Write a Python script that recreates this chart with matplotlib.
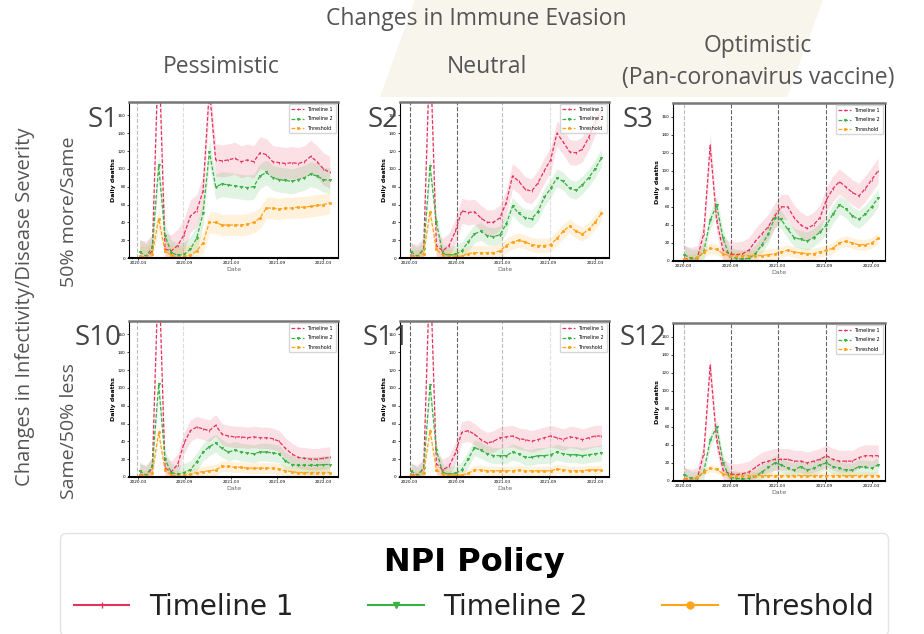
import matplotlib.pyplot as plt
from matplotlib.patches import Polygon
from matplotlib.lines import Line2D

# time index (two-week steps) shared by every panel
weeks = list(range(31))

# S1: pessimistic / 50% more
s1_t1 = [2, 1, 8, 240, 10, 8, 14, 26, 47, 53, 75, 190, 110, 109, 110, 112, 108, 110,
         108, 118, 116, 108, 107, 106, 107, 106, 108, 114, 108, 100, 96]
s1_t2 = [7, 2, 12, 104, 25, 6, 3, 4, 10, 22, 50, 119, 80, 83, 82, 81, 80, 79,
         80, 92, 96, 90, 88, 87, 86, 88, 90, 94, 92, 88, 87]
s1_thr = [2, 1, 5, 44, 8, 3, 1, 2, 3, 8, 17, 40, 40, 37, 37, 37, 37, 38,
          40, 45, 56, 56, 55, 56, 56, 57, 57, 58, 59, 60, 62]

# S2: neutral / 50% more
s2_t1 = [3, 1, 10, 240, 14, 8, 14, 30, 53, 51, 52, 45, 40, 40, 45, 62, 92, 86,
         77, 75, 84, 98, 110, 140, 130, 119, 118, 122, 135, 152, 165]
s2_t2 = [7, 2, 10, 103, 40, 5, 3, 4, 8, 18, 27, 30, 25, 24, 26, 38, 58, 50,
         45, 44, 52, 68, 78, 90, 86, 78, 76, 82, 90, 100, 112]
s2_thr = [2, 1, 5, 52, 10, 3, 2, 2, 2, 5, 6, 6, 6, 6, 8, 14, 18, 20,
          18, 15, 14, 14, 15, 22, 30, 36, 30, 27, 32, 40, 50]

# S3: optimistic / 50% more
s3_t1 = [3, 1, 3, 30, 128, 45, 12, 8, 7, 8, 12, 22, 30, 38, 50, 60, 60, 48,
         40, 36, 40, 48, 68, 80, 88, 82, 76, 72, 80, 90, 100]
s3_t2 = [7, 3, 3, 10, 45, 62, 25, 5, 3, 2, 3, 8, 18, 30, 48, 46, 35, 26,
         24, 22, 26, 32, 40, 52, 62, 58, 50, 46, 52, 60, 70]
s3_thr = [2, 1, 4, 10, 14, 13, 8, 6, 6, 6, 6, 6, 6, 7, 8, 10, 12, 10,
          9, 8, 8, 10, 12, 14, 20, 22, 20, 18, 18, 20, 25]

# S10: pessimistic / 50% less
s10_t1 = [3, 1, 10, 240, 10, 6, 14, 38, 52, 56, 54, 52, 58, 48, 46, 45, 45, 44,
          45, 44, 44, 43, 40, 32, 26, 22, 21, 20, 20, 21, 22]
s10_t2 = [7, 2, 12, 104, 20, 5, 3, 5, 8, 17, 28, 34, 38, 32, 28, 30, 28, 27,
          26, 28, 28, 27, 26, 18, 14, 13, 13, 13, 13, 14, 14]
s10_thr = [2, 1, 5, 50, 8, 2, 1, 2, 3, 5, 6, 7, 8, 12, 12, 11, 11, 10,
           10, 10, 10, 10, 9, 7, 6, 5, 5, 5, 5, 5, 5]

# S11: neutral / 50% less
s11_t1 = [3, 1, 10, 240, 15, 8, 12, 27, 50, 52, 48, 42, 38, 40, 44, 45, 46, 43,
          42, 40, 42, 44, 46, 44, 42, 45, 44, 42, 44, 46, 46]
s11_t2 = [7, 2, 10, 103, 30, 5, 3, 4, 8, 20, 33, 30, 26, 24, 24, 24, 28, 26,
          22, 22, 24, 24, 25, 28, 26, 25, 25, 24, 25, 26, 27]
s11_thr = [2, 1, 5, 52, 8, 3, 2, 2, 2, 4, 8, 8, 7, 7, 7, 7, 7, 8,
           7, 7, 7, 7, 7, 9, 8, 7, 7, 7, 8, 8, 8]

# S12: optimistic / 50% less
s12_t1 = [3, 1, 3, 30, 128, 45, 12, 8, 7, 8, 10, 15, 20, 22, 24, 24, 24, 22,
          22, 20, 22, 24, 28, 24, 22, 22, 22, 26, 28, 28, 28]
s12_t2 = [7, 3, 3, 10, 45, 60, 20, 4, 3, 2, 3, 5, 10, 15, 20, 18, 14, 12,
          16, 12, 14, 18, 20, 16, 14, 12, 12, 16, 15, 14, 18]
s12_thr = [2, 1, 4, 10, 14, 13, 8, 6, 6, 6, 6, 6, 6, 6, 6, 6, 6, 6,
           6, 6, 6, 6, 6, 6, 6, 6, 6, 6, 6, 6, 6]

series_names = ['Timeline 1', 'Timeline 2', 'Threshold']
colors = ['#e8305a', '#3cb044', '#ffa31a']
markers = ['|', 'v', 'o']

tick_pos = [-0.2, 7.1, 14.4, 21.7, 29.0]
date_labels = ['2020-03', '2020-09', '2021-03', '2021-09', '2022-03']

fig = plt.figure(figsize=(9.24, 6.34), dpi=100)
W, H = 924, 634


def fx(px):
    return px / W


def fy(py):
    return 1 - py / H


# cream parallelogram behind the top header
fig.add_artist(Polygon([(fx(415), fy(0)), (fx(823), fy(0)), (fx(787), fy(97)), (fx(380), fy(97))],
                       closed=True, transform=fig.transFigure, facecolor='#f8f5ed',
                       edgecolor='none', zorder=0))


def panel(box, data, bands, xlim, vlines, tag, tag_x, tag_y):
    left, top, right, bottom = box
    ax = fig.add_axes([fx(left), fy(bottom), fx(right) - fx(left), (bottom - top) / H])
    for y, c, m, w, name in zip(data, colors, markers, bands, series_names):
        lo = [max(v - w, 0) for v in y]
        hi = [v + w for v in y]
        ax.fill_between(weeks, lo, hi, color=c, alpha=0.15, lw=0)
        ax.plot(weeks, y, color=c, lw=0.9, ls=(0, (3, 1.5)), marker=m, ms=1.6,
                mew=0.6, label=name)
    for x, c in vlines:
        ax.axvline(x, color=c, ls='--', lw=0.8, zorder=0)
    ax.set_xlim(xlim)
    ax.set_ylim(0, 175)
    ax.set_yticks(range(0, 161, 20))
    ax.set_xticks(tick_pos, date_labels)
    ax.tick_params(labelsize=3, length=1.5, width=0.5, pad=1)
    ax.set_ylabel('Daily deaths', fontsize=4.5, fontweight='bold', labelpad=1)
    ax.set_xlabel('Date', fontsize=4.5, labelpad=1, color='#666')
    for s in ['left', 'right']:
        ax.spines[s].set_linewidth(0.8)
    ax.spines['bottom'].set_linewidth(1.5)
    ax.spines['top'].set_linewidth(1.8)
    ax.spines['top'].set_color('#777')
    ax.legend(fontsize=3.5, loc='upper right', handlelength=2.5, framealpha=0.8,
              edgecolor='#ccc', borderpad=0.5, labelspacing=0.9)
    fig.text(fx(tag_x), fy(tag_y), tag, fontsize=20, family='Open Sans',
             color='#444', ha='left', va='center')
    return ax


light = '#bbbbbb'
dark = '#666666'
col1_x = (-1.68, 31.3)
col2_x = (-1.73, 31.2)
col3_x = (-1.75, 31.06)
col1_v = [(-0.4, light), (6.8, '#dddddd')]
col2_v = [(-0.16, dark), (7.2, dark), (14.4, light), (21.9, '#e0e0e0')]
col3_v = [(0.0, light), (7.25, dark), (14.55, dark), (21.9, dark)]

panel((129, 102, 338, 258), (s1_t1, s1_t2, s1_thr), (18, 14, 12), col1_x, col1_v, 'S1', 88, 120)
panel((400, 102, 609, 258), (s2_t1, s2_t2, s2_thr), (14, 10, 8), col2_x, col2_v, 'S2', 368, 120)
panel((673, 103, 885, 261), (s3_t1, s3_t2, s3_thr), (14, 10, 6), col3_x, col3_v, 'S3', 623, 120)
panel((129, 321, 338, 477), (s10_t1, s10_t2, s10_thr), (12, 10, 6), col1_x, col1_v, 'S10', 75, 338)
panel((400, 321, 609, 477), (s11_t1, s11_t2, s11_thr), (12, 9, 5), col2_x, col2_v, 'S11', 363, 338)
panel((673, 323, 885, 481), (s12_t1, s12_t2, s12_thr), (12, 8, 4), col3_x, col3_v, 'S12', 620, 338)

# headers
hdr = dict(family='Open Sans', color='#555555', ha='center', va='center')
fig.text(fx(476), fy(19), 'Changes in Immune Evasion', fontsize=16.5, **hdr)
fig.text(fx(221), fy(67), 'Pessimistic', fontsize=16.5, **hdr)
fig.text(fx(487), fy(67), 'Neutral', fontsize=16.5, **hdr)
fig.text(fx(758), fy(46), 'Optimistic', fontsize=16.5, **hdr)
fig.text(fx(758), fy(78), '(Pan-coronavirus vaccine)', fontsize=16.5, **hdr)
fig.text(fx(25), fy(307), 'Changes in Infectivity/Disease Severity', fontsize=14.5,
         rotation=90, **hdr)
fig.text(fx(69), fy(212), '50% more/Same', fontsize=14, rotation=90, **hdr)
fig.text(fx(69), fy(431), 'Same/50% less', fontsize=14, rotation=90, **hdr)

# shared legend at the bottom
handles = [Line2D([0], [0], color=c, marker=m, ms=5, lw=1.5) for c, m in zip(colors, ['|', 'v', 'o'])]
leg = fig.legend(handles, series_names, loc='upper left',
                 bbox_to_anchor=(fx(60), 0, fx(888) - fx(60), fy(533)),
                 mode='expand', ncol=3, title='NPI Policy',
                 title_fontproperties={'weight': 'bold', 'size': 23},
                 fontsize=20, frameon=True, fancybox=True, edgecolor='#dddddd',
                 handlelength=2.0, handletextpad=0.7, borderaxespad=0,
                 borderpad=0.5, labelspacing=0.55)
for t in leg.get_texts():
    t.set_color('#222222')

fig.savefig('out.png', dpi=100)
